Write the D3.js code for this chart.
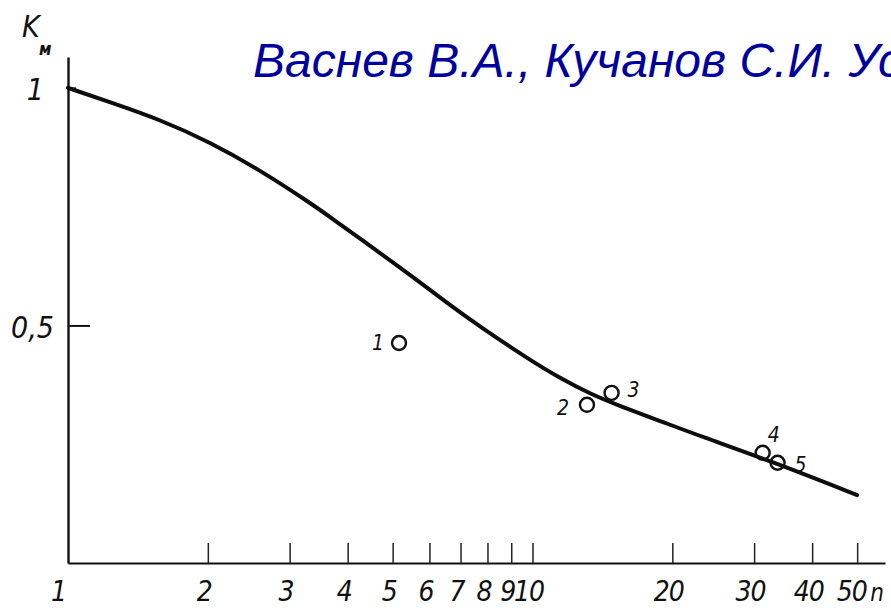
<!DOCTYPE html>
<html>
<head>
<meta charset="utf-8">
<script src="https://cdn.jsdelivr.net/npm/d3@7"></script>
<style>
  html, body { margin: 0; padding: 0; background: #fff; }
  svg { display: block; }
  .hand { font-family: "Liberation Sans Narrow", "DejaVu Sans Condensed", "Liberation Sans", sans-serif; font-style: italic; fill: #111; }
</style>
</head>
<body>
<svg id="chart" width="891" height="610"></svg>
<script>
// Theoretical curve K_m(n)
const curveN = [1, 1.23, 1.58, 2.02, 2.59, 3.32, 3.67, 4.7, 5.53, 6.55, 7.71, 9.88, 11.47, 13.3, 15.44, 18.83, 22.96, 32.5, 50];
const curveK = [1.0, 0.970, 0.933, 0.886, 0.827, 0.758, 0.728, 0.652, 0.602, 0.547, 0.497, 0.427, 0.389, 0.356, 0.330, 0.299, 0.267, 0.215, 0.143];

// Experimental points
const pointIds = ["1", "2", "3", "4", "5"];
const pointN = [5.16, 13.1, 14.8, 31.3, 33.7];
const pointK = [0.463, 0.333, 0.358, 0.232, 0.211];

// Axis ticks
const xTicks = [2, 3, 4, 5, 6, 7, 8, 9, 10, 20, 30, 40, 50];
const xTickLabels = ["2", "3", "4", "5", "6", "7", "8", "9", "10", "20", "30", "40", "50"];
const yTicks = [0.5, 1];
const yTickLabels = ["0,5", "1"];

const titleText = "Васнев В.А., Кучанов С.И. Успехи химии";

// Label placement around each point (pixels)
const pointLabelOffset = [[-27, 7], [-30, 10], [16, 4], [5, -11], [17, 9]];

const svg = d3.select("#chart");

const x = d3.scaleLog().domain([1, 57.4]).range([68, 885]);
const y = d3.scaleLinear().domain([0, 1.065]).range([563, 57]);

// Title
svg.append("text")
  .attr("x", 253).attr("y", 77)
  .style("font-family", "'Liberation Sans', Arial, sans-serif")
  .style("font-style", "italic")
  .style("font-size", "48px")
  .style("fill", "#00009c")
  .text(titleText);

// X axis: ticks point upward, labels below
const xAxis = d3.axisBottom(x)
  .tickValues(xTicks)
  .tickSizeInner(-20)
  .tickSizeOuter(0)
  .tickFormat((d, i) => xTickLabels[i]);

const gx = svg.append("g").attr("transform", `translate(0,${y(0)})`).call(xAxis);
gx.select(".domain").attr("stroke", "#111").attr("stroke-width", 2.2);
gx.selectAll(".tick line").attr("stroke", "#222").attr("stroke-width", 1.5);
gx.selectAll(".tick text")
  .attr("class", "hand")
  .attr("y", 38).attr("dy", 0).attr("dx", d => d === 50 ? -6 : -4)
  .style("font-size", "28px")
  .style("letter-spacing", "-1px");

// label "1" at the origin of the log axis
gx.append("text").attr("class", "hand")
  .attr("x", x(1) - 9).attr("y", 38)
  .attr("text-anchor", "middle")
  .style("font-size", "28px")
  .text("1");

// axis name n
gx.append("text").attr("class", "hand")
  .attr("x", 877).attr("y", 38)
  .style("font-size", "24px")
  .text("n");

// Y axis: ticks to the right, labels to the left
const yAxis = d3.axisLeft(y)
  .tickValues(yTicks)
  .tickSizeInner(-22)
  .tickSizeOuter(0)
  .tickPadding(14)
  .tickFormat((d, i) => yTickLabels[i]);

const gy = svg.append("g").attr("transform", `translate(${x(1)},0)`).call(yAxis);
gy.select(".domain").attr("stroke", "#111").attr("stroke-width", 2.4);
gy.selectAll(".tick line").attr("stroke", "#111").attr("stroke-width", 2)
  .attr("x2", d => d === 1 ? 8 : 22);
gy.selectAll(".tick text")
  .attr("class", "hand")
  .attr("dy", "0.4em")
  .attr("dx", d => d === 1 ? -10 : 0)
  .style("font-size", "30px");

// axis name K_м
svg.append("text").attr("class", "hand")
  .attr("x", 22).attr("y", 37)
  .style("font-size", "30px")
  .text("K");
svg.append("text").attr("class", "hand")
  .attr("x", 39).attr("y", 55)
  .style("font-size", "17px")
  .style("font-weight", "bold")
  .text("м");

// Curve
const line = d3.line()
  .x(d => x(d[0]))
  .y(d => y(d[1]))
  .curve(d3.curveBasis);

svg.append("path")
  .datum(curveN.map((n, i) => [n, curveK[i]]))
  .attr("d", line)
  .attr("fill", "none")
  .attr("stroke", "#0d0d0d")
  .attr("stroke-width", 4)
  .attr("stroke-linecap", "round");

// Points
const pts = pointN.map((n, i) => ({ id: pointIds[i], n, k: pointK[i], off: pointLabelOffset[i] }));

svg.selectAll("circle.pt")
  .data(pts)
  .join("circle")
  .attr("class", "pt")
  .attr("cx", d => x(d.n))
  .attr("cy", d => y(d.k))
  .attr("r", 7)
  .attr("fill", "none")
  .attr("stroke", "#111")
  .attr("stroke-width", 2.4);

svg.selectAll("text.ptlab")
  .data(pts)
  .join("text")
  .attr("class", "hand ptlab")
  .attr("x", d => x(d.n) + d.off[0])
  .attr("y", d => y(d.k) + d.off[1])
  .style("font-size", "21px")
  .text(d => d.id);
</script>
</body>
</html>
